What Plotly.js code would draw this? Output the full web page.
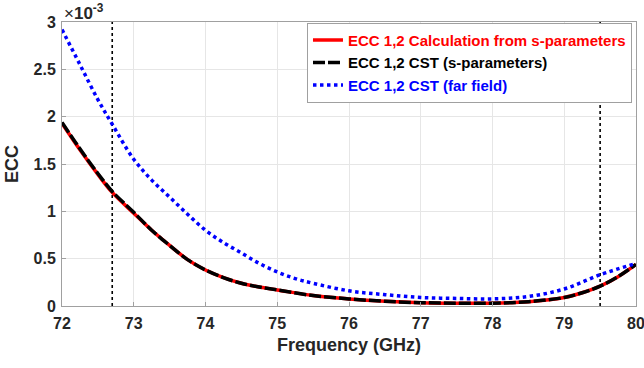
<!DOCTYPE html>
<html>
<head>
<meta charset="utf-8">
<script src="https://cdn.plot.ly/plotly-3.0.1.min.js"></script>
<style>html,body{margin:0;padding:0;background:#fff;}#chart{width:644px;height:368px;}</style>
</head>
<body>
<div id="chart"></div>
<script>
// Frequencies (GHz)
const freqCalc = [72, 72.25, 72.5, 72.7, 73, 73.25, 73.5, 73.75, 74, 74.25, 74.5, 74.75, 75, 75.5, 76, 76.5, 77, 77.5, 78, 78.5, 79, 79.25, 79.5, 79.75, 80];
// ECC values in units of 1e-3
const eccCalc = [1.93, 1.65, 1.39, 1.20, 0.98, 0.80, 0.64, 0.49, 0.38, 0.30, 0.24, 0.20, 0.17, 0.11, 0.075, 0.05, 0.035, 0.03, 0.03, 0.045, 0.09, 0.14, 0.21, 0.31, 0.44];
const eccCstS = [1.94, 1.66, 1.40, 1.21, 0.99, 0.80, 0.64, 0.49, 0.38, 0.30, 0.24, 0.20, 0.17, 0.11, 0.075, 0.05, 0.035, 0.03, 0.03, 0.045, 0.09, 0.14, 0.21, 0.31, 0.44];
const freqFar = [72, 72.25, 72.5, 72.7, 73, 73.25, 73.5, 73.75, 74, 74.25, 74.5, 74.75, 75, 75.25, 75.5, 76, 76.5, 77, 77.5, 78, 78.5, 79, 79.5, 80];
const eccFar = [2.92, 2.55, 2.18, 1.92, 1.55, 1.33, 1.15, 0.97, 0.80, 0.67, 0.56, 0.45, 0.36, 0.29, 0.24, 0.16, 0.12, 0.09, 0.08, 0.075, 0.10, 0.18, 0.33, 0.45];
// Band edge markers (GHz)
const bandEdges = [72.7, 79.5];
const yTicks = [0, 0.5, 1, 1.5, 2, 2.5, 3];
const yTickText = ['0', '0.5', '1', '1.5', '2', '2.5', '3'];
const xTicks = [72, 73, 74, 75, 76, 77, 78, 79, 80];

const names = ['ECC 1,2 Calculation from s-parameters', 'ECC 1,2 CST (s-parameters)', 'ECC 1,2 CST (far field)'];
const colors = ['#ff0000', '#000000', '#0000ff'];

const traces = [];
bandEdges.forEach(f => {
  traces.push({x: [f, f], y: [yTicks[0], yTicks[yTicks.length - 1]], mode: 'lines', showlegend: false, hoverinfo: 'skip',
    line: {color: '#000', width: 1.6, dash: 'dot'}});
});
traces.push({x: freqCalc, y: eccCalc, mode: 'lines', name: '<b><span style="color:#ff0000">' + names[0] + '</span></b>',
  line: {color: colors[0], width: 3.5, shape: 'spline'}});
traces.push({x: freqCalc, y: eccCstS, mode: 'lines', name: '<b><span style="color:#000">' + names[1] + '</span></b>',
  line: {color: colors[1], width: 3.5, dash: '12px,3px', shape: 'spline'}});
traces.push({x: freqFar, y: eccFar, mode: 'lines', name: '<b><span style="color:#0000ff">' + names[2] + '</span></b>',
  line: {color: colors[2], width: 3.5, dash: 'dot', shape: 'spline'}});

const layout = {
  width: 644, height: 368,
  margin: {l: 62, r: 8, t: 22, b: 62},
  paper_bgcolor: '#fff', plot_bgcolor: '#fff',
  font: {family: 'Liberation Sans, Arial, sans-serif', color: '#262626'},
  showlegend: true,
  legend: {x: 0.993, y: 0.997, xanchor: 'right', yanchor: 'top', bgcolor: '#fff', bordercolor: '#a0a0a0', borderwidth: 1,
    font: {size: 15, family: 'Liberation Sans, Arial, sans-serif'}, tracegroupgap: 0, itemwidth: 30},
  xaxis: {range: [72, 80], tickvals: xTicks, ticktext: xTicks.map(v => '<b>' + v + '</b>'), showgrid: true, gridcolor: '#e6e6e6',
    showline: true, linecolor: '#a0a0a0', linewidth: 1, mirror: true, ticks: 'inside', ticklen: 4, tickcolor: '#a0a0a0',
    tickfont: {size: 16, color: '#262626'}, zeroline: false, ticklabeloverflow: 'allow', ticklabelstandoff: 3,
    title: {text: '<b>Frequency (GHz)</b>', font: {size: 18, color: '#262626'}, standoff: 7}},
  yaxis: {range: [0, 3], tickvals: yTicks, ticktext: yTickText.map(t => '<b>' + t + '</b>'), showgrid: true, gridcolor: '#e6e6e6',
    showline: true, linecolor: '#a0a0a0', linewidth: 1, mirror: true, ticks: 'inside', ticklen: 4, tickcolor: '#a0a0a0',
    tickfont: {size: 16, color: '#262626'}, zeroline: false, ticklabeloverflow: 'allow', ticklabelstandoff: 2,
    title: {text: '<b>ECC</b>', font: {size: 18, color: '#262626'}, standoff: 10}},
  annotations: [{xref: 'paper', yref: 'paper', x: 0, y: 1, xanchor: 'left', yanchor: 'bottom', showarrow: false,
    text: '×<b>10<sup>-3</sup></b>', font: {size: 17, color: '#262626'}, yshift: -3}]
};

Plotly.newPlot('chart', traces, layout, {staticPlot: true, displayModeBar: false});
</script>
</body>
</html>
